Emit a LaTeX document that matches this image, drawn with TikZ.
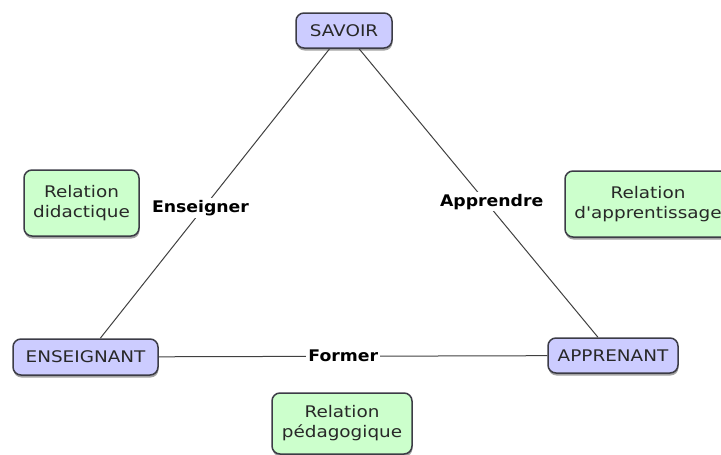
\documentclass[tikz,border=0pt]{standalone}
\usepackage{fontspec}
\newfontfamily\bodyfont{DejaVu Sans}[FakeStretch=1.15]
\newfontfamily\lblfont{DejaVu Sans Bold}[FakeStretch=1.08]
\usetikzlibrary{shadows}
\definecolor{boxblue}{RGB}{204,204,255}
\definecolor{boxgreen}{RGB}{204,255,204}
\definecolor{edge}{RGB}{60,60,70}
\definecolor{txt}{RGB}{40,40,40}
\tikzset{
  basebox/.style={draw=edge, line width=1.5pt, rounded corners=8pt, text=txt,
    align=center, inner sep=0pt, font=\bodyfont\fontsize{16}{20}\selectfont,
    drop shadow={shadow xshift=0.5pt, shadow yshift=-2.5pt, fill=black!45, opacity=0.8}},
  pole/.style={basebox, fill=boxblue},
  relation/.style={basebox, fill=boxgreen},
  conn/.style={draw=black!75, line width=1pt},
  verb/.style={fill=white, inner sep=2pt, text=black, font=\lblfont\fontsize{16}{18}\selectfont}
}
\begin{document}
\begin{tikzpicture}[x=1pt,y=-1pt]
\useasboundingbox (0,0) rectangle (721,455);
\node[pole, minimum width=96pt, minimum height=35pt] (savoir) at (344,30.5) {SAVOIR};
\node[pole, minimum width=145pt, minimum height=36pt] (enseignant) at (85.5,357) {ENSEIGNANT};
\node[pole, minimum width=130pt, minimum height=35pt] (apprenant) at (613,355.5) {APPRENANT};
\node[relation, minimum width=115pt, minimum height=66pt] (didac) at (81.5,203) {Relation\\didactique};
\node[relation, minimum width=166pt, minimum height=66pt] (appr) at (648,204) {Relation\\d'apprentissage};
\node[relation, minimum width=140pt, minimum height=61pt] (peda) at (342,423.5) {Relation\\pédagogique};
\draw[conn] (savoir) -- node[verb, pos=0.55, xshift=-3pt] (ens) {Enseigner} (enseignant);
\draw[conn] (savoir) -- node[verb, pos=0.53, xshift=6pt] (app) {Apprendre} (apprenant);
\draw[conn] (enseignant) -- node[verb, pos=0.475] (form) {Former} (apprenant);
\end{tikzpicture}
\end{document}
